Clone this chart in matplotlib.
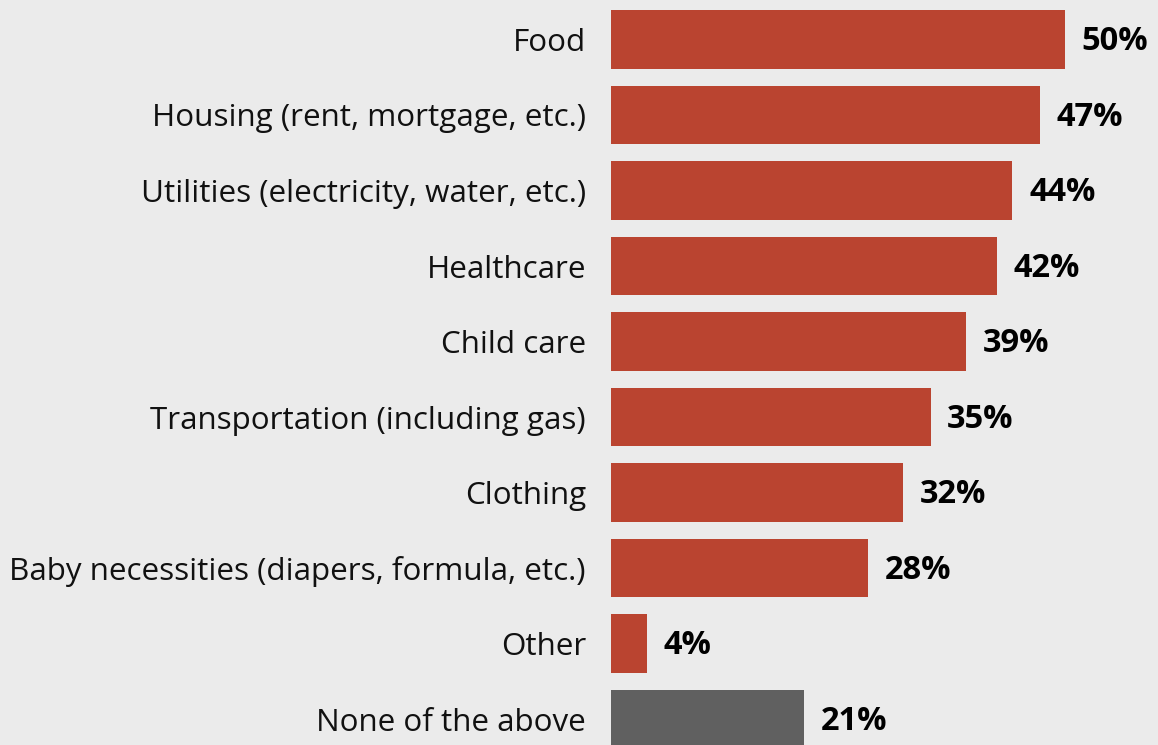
import matplotlib
matplotlib.use("Agg")
import matplotlib.pyplot as plt

categories = ["Food", "Housing (rent, mortgage, etc.)", "Utilities (electricity, water, etc.)",
              "Healthcare", "Child care", "Transportation (including gas)", "Clothing",
              "Baby necessities (diapers, formula, etc.)", "Other", "None of the above"]
values = [50, 47.2, 44.2, 42.5, 39.1, 35.2, 32.2, 28.3, 4, 21.3]
labels = ["50%", "47%", "44%", "42%", "39%", "35%", "32%", "28%", "4%", "21%"]

RED = "#BA4430"
GRAY = "#606060"
BG = "#EBEBEB"
colors = [RED] * 9 + [GRAY]

plt.rcParams['font.family'] = ['Open Sans', 'DejaVu Sans']

fig = plt.figure(figsize=(11.58, 7.45), dpi=100, facecolor=BG)
ax = fig.add_axes([611 / 1158, 0, 1 - 611 / 1158, 1])
ax.set_facecolor(BG)

y = list(range(len(categories)))
ax.barh(y, values, height=0.777, color=colors)
ax.set_ylim(9.344, -0.523)
ax.set_xlim(0, 60.24)

ax.set_yticks(y)
ax.set_yticklabels(categories, fontsize=22.6, color="#111111")
ax.tick_params(axis='y', length=0, pad=18)
ax.set_xticks([])
for s in ax.spines.values():
    s.set_visible(False)

for yi, v, lab in zip(y, values, labels):
    ax.annotate(lab, (v, yi), xytext=(12.0, -1.5), textcoords='offset points',
                ha='left', va='center', fontsize=23.5, fontweight='bold', color="#000000")

fig.savefig("out.png", dpi=100, facecolor=BG)
